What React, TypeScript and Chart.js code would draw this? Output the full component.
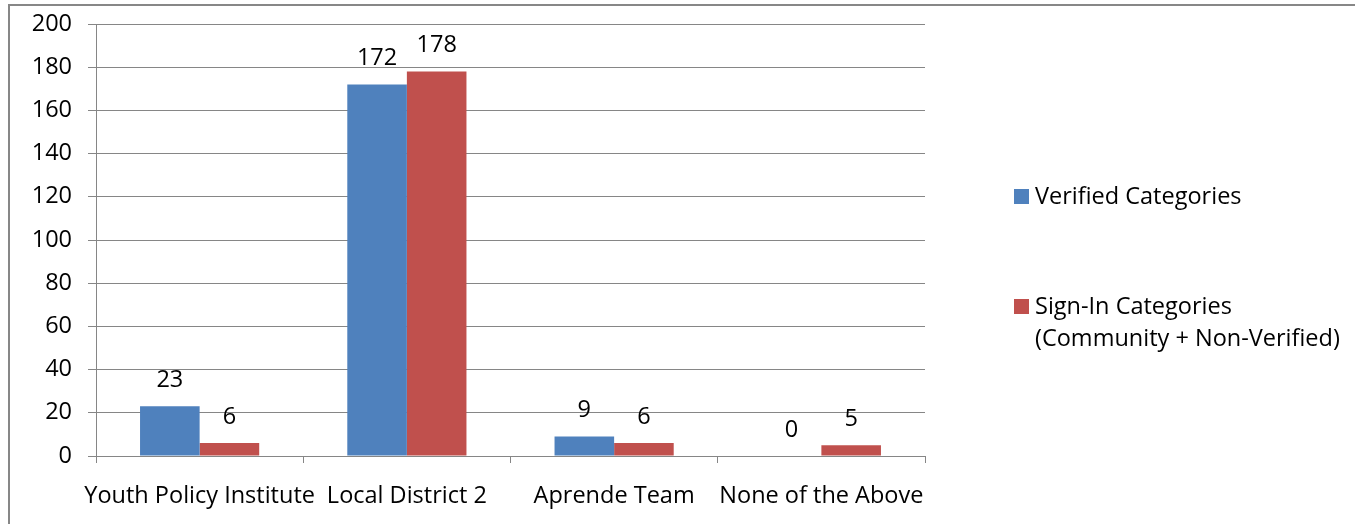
import React, { useEffect, useRef } from "react";
import { Chart, registerables } from "chart.js";

Chart.register(...registerables);

const categories = ["Youth Policy Institute", "Local District 2", "Aprende Team", "None of the Above"];
const verified = [23, 172, 9, 0];
const signIn = [6, 178, 6, 5];
const seriesNames: (string | string[])[] = [
  "Verified Categories",
  ["Sign-In Categories", "(Community + Non-Verified)"],
];
const seriesColors = ["#4F81BD", "#C0504D"];

const FONT = "'Open Sans', 'DejaVu Sans', sans-serif";
const FS = 23.5;

const framePlugin = {
  id: "frame",
  beforeDraw(chart: any) {
    const ctx = chart.ctx;
    ctx.save();
    ctx.strokeStyle = "#878787";
    ctx.lineWidth = 2;
    ctx.beginPath();
    ctx.moveTo(9, chart.height + 2);
    ctx.lineTo(9, 5);
    ctx.lineTo(chart.width + 2, 5);
    ctx.stroke();
    ctx.restore();
  },
};

const labelPlugin = {
  id: "valueLabels",
  afterDatasetsDraw(chart: any) {
    const ctx = chart.ctx;
    ctx.save();
    ctx.font = `${FS}px ${FONT}`;
    ctx.fillStyle = "#000";
    ctx.textAlign = "center";
    ctx.textBaseline = "middle";
    chart.data.datasets.forEach((ds: any, i: number) => {
      const meta = chart.getDatasetMeta(i);
      meta.data.forEach((el: any, j: number) => {
        ctx.fillText(String(ds.data[j]), el.x, el.y - 26);
      });
    });
    ctx.restore();
  },
};

const legendPlugin = {
  id: "sideLegend",
  afterDraw(chart: any) {
    const ctx = chart.ctx;
    ctx.save();
    ctx.font = `${FS}px ${FONT}`;
    ctx.textAlign = "left";
    ctx.textBaseline = "middle";
    const x = 1014;
    const tops = [189, 299];
    chart.data.datasets.forEach((ds: any, i: number) => {
      const y = tops[i];
      ctx.fillStyle = ds.backgroundColor;
      ctx.fillRect(x, y, 15, 15);
      ctx.fillStyle = "#000";
      const lines = Array.isArray(ds.label) ? ds.label : [ds.label];
      lines.forEach((ln: string, k: number) => {
        ctx.fillText(ln, x + 21, y + 8 + k * 32);
      });
    });
    ctx.restore();
  },
};

export default function App() {
  const ref = useRef<HTMLCanvasElement>(null);
  useEffect(() => {
    if (!ref.current) return;
    const chart = new Chart(ref.current, {
      type: "bar",
      data: {
        labels: categories,
        datasets: [
          { label: seriesNames[0] as any, data: verified, backgroundColor: seriesColors[0], borderWidth: 0 },
          { label: seriesNames[1] as any, data: signIn, backgroundColor: seriesColors[1], borderWidth: 0 },
        ],
      },
      options: {
        animation: false,
        responsive: false,
        maintainAspectRatio: false,
        layout: { padding: { top: 24, left: 0, right: 430, bottom: 0 } },
        plugins: { legend: { display: false }, tooltip: { enabled: false } },
        datasets: { bar: { barPercentage: 1, categoryPercentage: 0.575 } },
        scales: {
          x: {
            offset: true,
            grid: { display: true, drawOnChartArea: false, drawTicks: true, tickLength: 7, color: "#868686", offset: true },
            border: { display: true, color: "#868686", width: 1 },
            ticks: { autoSkip: false, maxRotation: 0, minRotation: 0, padding: 19, color: "#000", font: { family: FONT, size: FS } },
            afterFit(scale: any) { scale.height = 68; scale.paddingTop = 0; scale.paddingBottom = 0; },
          },
          y: {
            min: 0,
            max: 200,
            ticks: { stepSize: 20, padding: 16, color: "#000", font: { family: FONT, size: FS } },
            grid: { color: "#868686", tickLength: 8, drawTicks: true },
            border: { display: true, color: "#868686", width: 1 },
            afterFit(scale: any) { scale.width = 96; scale.paddingTop = 0; scale.paddingBottom = 0; },
          },
        },
      },
      plugins: [framePlugin, labelPlugin, legendPlugin],
    });
    return () => chart.destroy();
  }, []);
  return (
    <div style={{ position: "absolute", left: 0, top: 0, width: 1355, height: 524, background: "#fff" }}>
      <canvas ref={ref} width={1355} height={524} style={{ display: "block" }} />
    </div>
  );
}
